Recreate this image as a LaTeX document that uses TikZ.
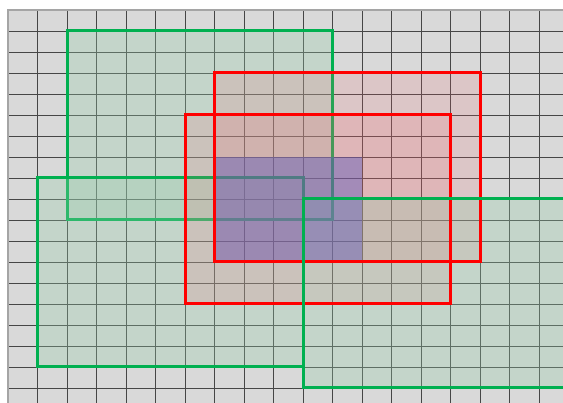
\documentclass[tikz,border=0pt]{standalone}
\definecolor{cellgray}{RGB}{217,217,217}
\definecolor{gridcol}{RGB}{70,70,70}
\definecolor{edgecol}{RGB}{165,165,165}
\definecolor{greenline}{RGB}{0,176,80}
\definecolor{greenfillc}{RGB}{150,205,170}
\definecolor{redfillc}{RGB}{240,100,110}
\definecolor{redlinec}{RGB}{255,0,0}
\definecolor{bluefillc}{RGB}{92,88,185}
\begin{document}
\begin{tikzpicture}[x=1pt,y=-1pt,
  gridline/.style={draw=gridcol,line width=0.8pt},
  gridedge/.style={draw=edgecol,line width=1.8pt},
  greenbox/.style={draw=greenline,line width=3pt,
     fill=greenfillc,fill opacity=0.3},
  greenfill/.style={fill=greenfillc,fill opacity=0.3},
  greenedge/.style={draw=greenline,line width=3pt},
  redfill/.style={fill=redfillc,fill opacity=0.16},
  redline/.style={draw=redlinec,line width=3pt},
  bluefill/.style={fill=bluefillc,fill opacity=0.45}]
\useasboundingbox (0,0) rectangle (563,403);
\clip (0,0) rectangle (563,403);
% background cells
\fill[cellgray] (8,10) rectangle (570,410);
% grid
\foreach \i in {1,...,18} \draw[gridline] (8+29.5*\i,10) -- (8+29.5*\i,410);
\foreach \j in {1,...,18} \draw[gridline] (8,10+21*\j) -- (570,10+21*\j);
\draw[gridedge] (8,410) -- (8,10) -- (570,10);
% green rectangles 1 and 2
\draw[greenbox] (67,31) rectangle (332,220);
\draw[greenbox] (37,178) rectangle (303,367);
% red fills and green 3 fill
\fill[redfill] (214,73) rectangle (480,262);
\fill[redfill] (185,115) rectangle (450,304);
\fill[greenfill] (303,199) rectangle (600,388);
% blue region
\fill[bluefill] (214,157) rectangle (362,262);
% red borders
\draw[redline] (214,73) rectangle (480,262);
\draw[redline] (185,115) rectangle (450,304);
% green rectangle 3 border
\draw[greenedge] (303,199) rectangle (600,388);
\end{tikzpicture}
\end{document}
